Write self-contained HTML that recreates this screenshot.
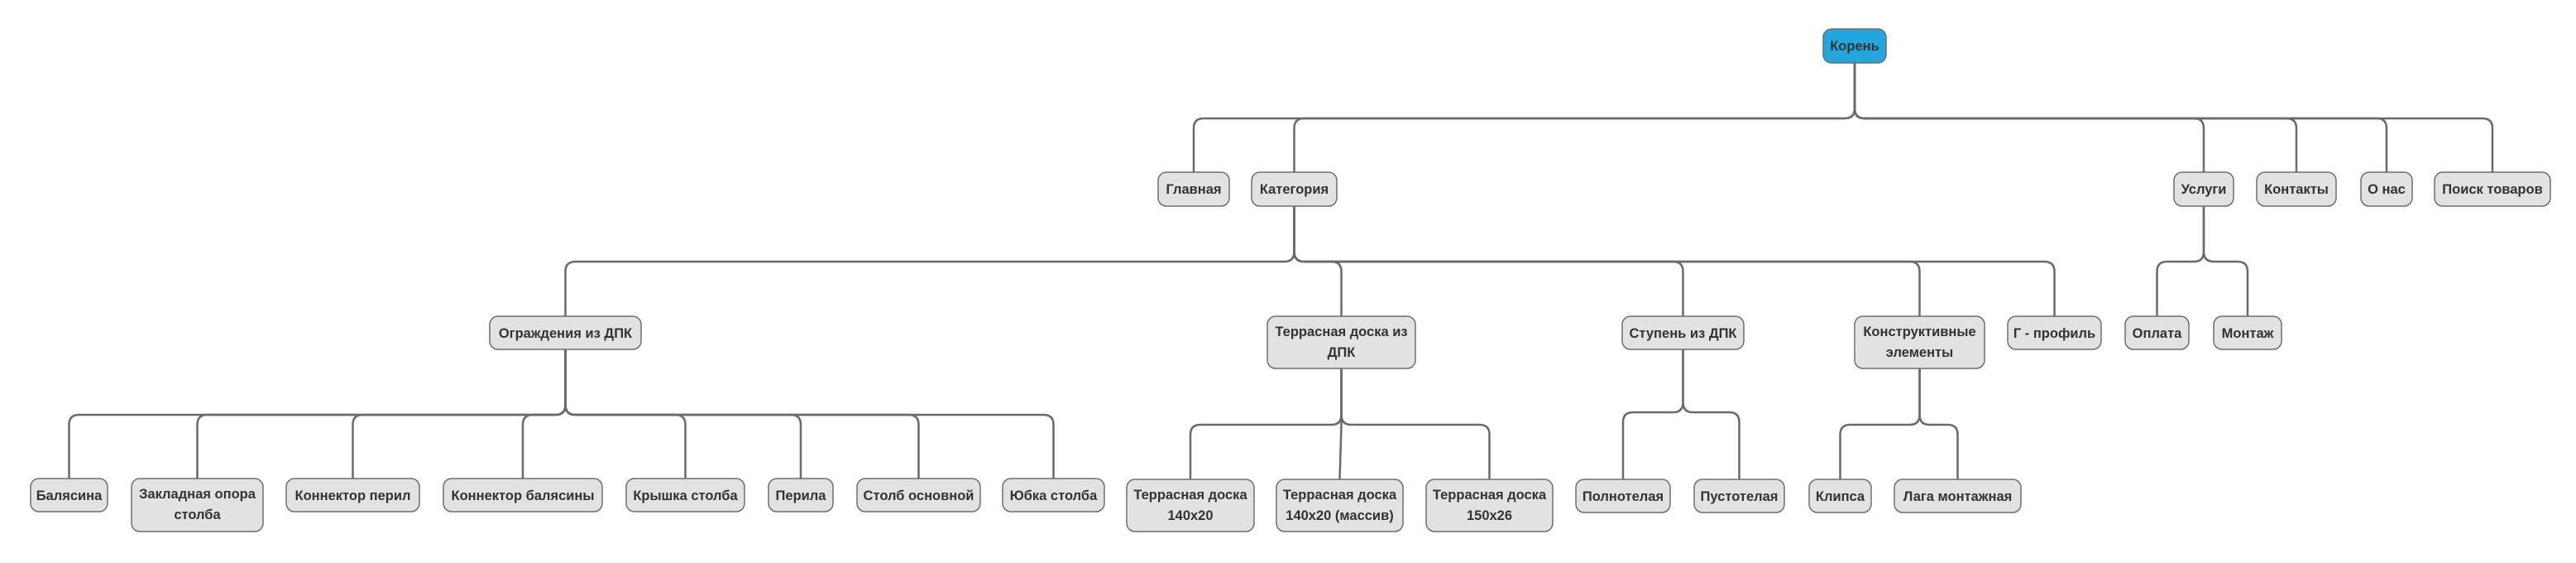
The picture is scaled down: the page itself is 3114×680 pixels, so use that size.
<!DOCTYPE html>
<html><head><meta charset="utf-8"><style>
html,body{margin:0;padding:0;background:#fff;}
svg{display:block}
text{font-family:"Liberation Sans","DejaVu Sans",sans-serif;font-weight:bold;font-size:16.5px;fill:#333;text-anchor:middle}
.n{fill:#e2e2e2;stroke:#6e6e6e;stroke-width:1.5}
.c{fill:none;stroke:#6a6a6a;stroke-width:2.5}
</style></head><body>
<svg width="3114" height="680" viewBox="0 0 3114 680" xmlns="http://www.w3.org/2000/svg">
<g class="c">
<!-- root -> L1 (bus 143) -->
<path d="M2242,76 V131 Q2242,143 2230,143 H1455 Q1443,143 1443,155 V208"/>
<path d="M2242,76 V131 Q2242,143 2230,143 H1576.5 Q1564.5,143 1564.5,155 V208"/>
<path d="M2242,76 V131 Q2242,143 2254,143 H2652 Q2664,143 2664,155 V208"/>
<path d="M2242,76 V131 Q2242,143 2254,143 H2764 Q2776,143 2776,155 V208"/>
<path d="M2242,76 V131 Q2242,143 2254,143 H2873 Q2885,143 2885,155 V208"/>
<path d="M2242,76 V131 Q2242,143 2254,143 H3001 Q3013,143 3013,155 V208"/>
<!-- Категория -> L2 (bus 316) -->
<path d="M1564.5,249 V304 Q1564.5,316 1552.5,316 H695.5 Q683.5,316 683.5,328 V382"/>
<path d="M1564.5,249 V304 Q1564.5,316 1576.5,316 H1609.5 Q1621.5,316 1621.5,328 V382"/>
<path d="M1564.5,249 V304 Q1564.5,316 1576.5,316 H2022.5 Q2034.5,316 2034.5,328 V382"/>
<path d="M1564.5,249 V304 Q1564.5,316 1576.5,316 H2308.5 Q2320.5,316 2320.5,328 V382"/>
<path d="M1564.5,249 V304 Q1564.5,316 1576.5,316 H2471.5 Q2483.5,316 2483.5,328 V382"/>
<!-- Услуги -->
<path d="M2664,249 V304 Q2664,316 2652,316 H2619.5 Q2607.5,316 2607.5,328 V382"/>
<path d="M2664,249 V304 Q2664,316 2676,316 H2705 Q2717,316 2717,328 V382"/>
<!-- Ограждения (bus 501) -->
<path d="M683.5,422 V489 Q683.5,501 671.5,501 H95.5 Q83.5,501 83.5,513 V578"/>
<path d="M683.5,422 V489 Q683.5,501 671.5,501 H250.5 Q238.5,501 238.5,513 V578"/>
<path d="M683.5,422 V489 Q683.5,501 671.5,501 H438.5 Q426.5,501 426.5,513 V578"/>
<path d="M683.5,422 V489 Q683.5,501 671.5,501 H644 Q632,501 632,513 V578"/>
<path d="M683.5,422 V489 Q683.5,501 695.5,501 H816.5 Q828.5,501 828.5,513 V578"/>
<path d="M683.5,422 V489 Q683.5,501 695.5,501 H956 Q968,501 968,513 V578"/>
<path d="M683.5,422 V489 Q683.5,501 695.5,501 H1098.5 Q1110.5,501 1110.5,513 V578"/>
<path d="M683.5,422 V489 Q683.5,501 695.5,501 H1261.5 Q1273.5,501 1273.5,513 V578"/>
<!-- Терр (bus 513) -->
<path d="M1621.5,445 V501 Q1621.5,513 1609.5,513 H1451 Q1439,513 1439,525 V579"/>
<path d="M1621.5,445 V513 L1619.5,579"/>
<path d="M1621.5,445 V501 Q1621.5,513 1633.5,513 H1788.5 Q1800.5,513 1800.5,525 V579"/>
<!-- Ступень (bus 498) -->
<path d="M2034.5,422 V486 Q2034.5,498 2022.5,498 H1974 Q1962,498 1962,510 V579"/>
<path d="M2034.5,422 V486 Q2034.5,498 2046.5,498 H2090.5 Q2102.5,498 2102.5,510 V579"/>
<!-- Констр (bus 513) -->
<path d="M2320.5,445 V501 Q2320.5,513 2308.5,513 H2236.5 Q2224.5,513 2224.5,525 V579"/>
<path d="M2320.5,445 V501 Q2320.5,513 2332.5,513 H2354.5 Q2366.5,513 2366.5,525 V579"/>
</g>

<!-- root -->
<rect x="2204" y="35" width="76" height="41" rx="10" fill="#22a6de" stroke="#6e6e6e" stroke-width="1.5"/>
<text x="2242" y="61">Корень</text>

<!-- L1 -->
<rect class="n" x="1400" y="208" width="86" height="41" rx="10"/><text x="1443" y="234">Главная</text>
<rect class="n" x="1513" y="208" width="103" height="41" rx="10"/><text x="1564.5" y="234">Категория</text>
<rect class="n" x="2628" y="208" width="72" height="41" rx="10"/><text x="2664" y="234">Услуги</text>
<rect class="n" x="2728" y="208" width="96" height="41" rx="10"/><text x="2776" y="234">Контакты</text>
<rect class="n" x="2854" y="208" width="62" height="41" rx="10"/><text x="2885" y="234">О нас</text>
<rect class="n" x="2943" y="208" width="140" height="41" rx="10"/><text x="3013" y="234">Поиск товаров</text>

<!-- L2 -->
<rect class="n" x="592" y="382" width="183" height="40" rx="10"/><text x="683.5" y="408">Ограждения из ДПК</text>
<rect class="n" x="1532" y="382" width="179" height="63" rx="10"/><text x="1621.5" y="406">Террасная доска из</text><text x="1621.5" y="431">ДПК</text>
<rect class="n" x="1961" y="382" width="147" height="40" rx="10"/><text x="2034.5" y="408">Ступень из ДПК</text>
<rect class="n" x="2242" y="382" width="157" height="63" rx="10"/><text x="2320.5" y="406">Конструктивные</text><text x="2320.5" y="431">элементы</text>
<rect class="n" x="2427" y="382" width="113" height="40" rx="10"/><text x="2483.5" y="408">Г - профиль</text>
<rect class="n" x="2569" y="382" width="77" height="40" rx="10"/><text x="2607.5" y="408">Оплата</text>
<rect class="n" x="2676" y="382" width="82" height="40" rx="10"/><text x="2717" y="408">Монтаж</text>

<!-- L3 -->
<rect class="n" x="37" y="578" width="93" height="40" rx="10"/><text x="83.5" y="604">Балясина</text>
<rect class="n" x="159" y="578" width="159" height="64" rx="10"/><text x="238.5" y="602">Закладная опора</text><text x="238.5" y="627">столба</text>
<rect class="n" x="346" y="578" width="161" height="40" rx="10"/><text x="426.5" y="604">Коннектор перил</text>
<rect class="n" x="536" y="578" width="192" height="40" rx="10"/><text x="632" y="604">Коннектор балясины</text>
<rect class="n" x="757" y="578" width="143" height="40" rx="10"/><text x="828.5" y="604">Крышка столба</text>
<rect class="n" x="929" y="578" width="78" height="40" rx="10"/><text x="968" y="604">Перила</text>
<rect class="n" x="1036" y="578" width="149" height="40" rx="10"/><text x="1110.5" y="604">Столб основной</text>
<rect class="n" x="1212" y="578" width="123" height="40" rx="10"/><text x="1273.5" y="604">Юбка столба</text>
<rect class="n" x="1362" y="579" width="154" height="63" rx="10"/><text x="1439" y="603">Террасная доска</text><text x="1439" y="628">140x20</text>
<rect class="n" x="1543" y="579" width="153" height="63" rx="10"/><text x="1619.5" y="603">Террасная доска</text><text x="1619.5" y="628">140x20 (массив)</text>
<rect class="n" x="1724" y="579" width="153" height="63" rx="10"/><text x="1800.5" y="603">Террасная доска</text><text x="1800.5" y="628">150x26</text>
<rect class="n" x="1905" y="579" width="114" height="40" rx="10"/><text x="1962" y="605">Полнотелая</text>
<rect class="n" x="2048" y="579" width="109" height="40" rx="10"/><text x="2102.5" y="605">Пустотелая</text>
<rect class="n" x="2187" y="579" width="75" height="40" rx="10"/><text x="2224.5" y="605">Клипса</text>
<rect class="n" x="2290" y="579" width="153" height="40" rx="10"/><text x="2366.5" y="605">Лага монтажная</text>
</svg>
</body></html>
